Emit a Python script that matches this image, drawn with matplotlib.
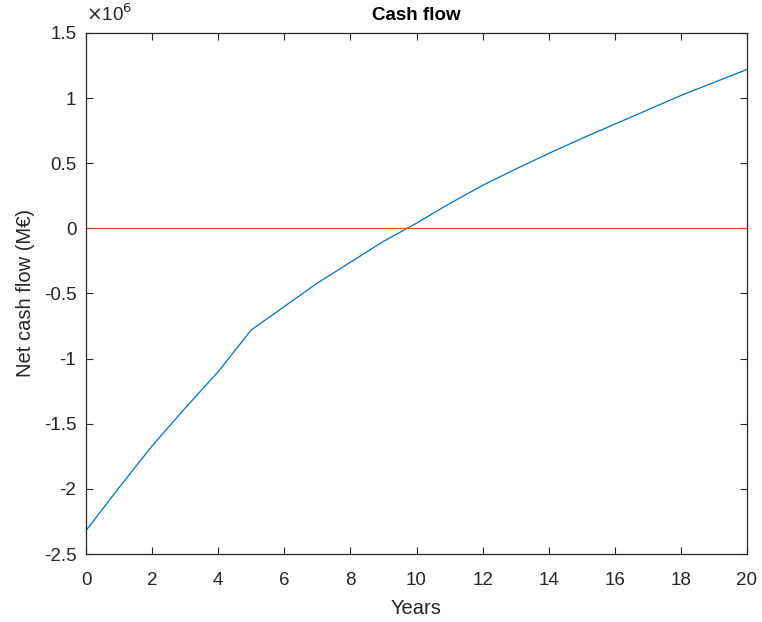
import numpy as np
import matplotlib
matplotlib.use("Agg")
import matplotlib.pyplot as plt
from matplotlib.ticker import FuncFormatter

# cumulative net cash flow per year
years = list(range(0, 21))
cash_flow = [-2.32e6, -1.99e6, -1.67e6, -1.38e6, -1.10e6, -0.78e6,
             -0.60e6, -0.42e6, -0.26e6, -0.10e6, 0.04e6, 0.19e6,
             0.33e6, 0.455e6, 0.575e6, 0.69e6, 0.80e6, 0.91e6,
             1.02e6, 1.12e6, 1.22e6]
zero_x = [0, 20]
zero_y = [0, 0]

x_ticks = list(range(0, 21, 2))
y_ticks = [-2.5e6, -2e6, -1.5e6, -1e6, -0.5e6, 0, 0.5e6, 1e6, 1.5e6]

plt.rcParams['font.family'] = ['Liberation Sans', 'DejaVu Sans']
dark = '#262626'

fig = plt.figure(figsize=(7.62, 6.22), dpi=100)
ax = fig.add_axes([0.1129, 0.1093, 0.8674, 0.8377])

ax.plot(years, cash_flow, color='#0072BD', linewidth=0.9)
ax.plot(zero_x, zero_y, color='#D95319', linewidth=0.9)

ax.set_xlim(0, 20)
ax.set_ylim(-2.5e6, 1.5e6)
ax.set_xticks(x_ticks)
ax.set_yticks(y_ticks)
ax.yaxis.set_major_formatter(FuncFormatter(lambda v, p: f"{v / 1e6:g}"))

ax.tick_params(direction='in', length=5, width=0.8, colors=dark,
               labelsize=13.5, top=True, right=True)
ax.tick_params(axis='x', pad=13)
ax.tick_params(axis='y', pad=7)
for s in ax.spines.values():
    s.set_color(dark)
    s.set_linewidth(0.9)

ax.set_title("Cash flow", fontsize=13.5, fontweight='bold', color='black', pad=9)
ax.set_xlabel("Years", fontsize=14.5, color=dark, labelpad=7)
ax.set_ylabel("Net cash flow (M€)", fontsize=14.5, color=dark, labelpad=6)
ax.text(0.0, 1.015, r"$\times$10$^{6}$", transform=ax.transAxes,
        fontsize=13.5, color=dark, ha='left', va='bottom')

fig.savefig("out.png", dpi=100)
